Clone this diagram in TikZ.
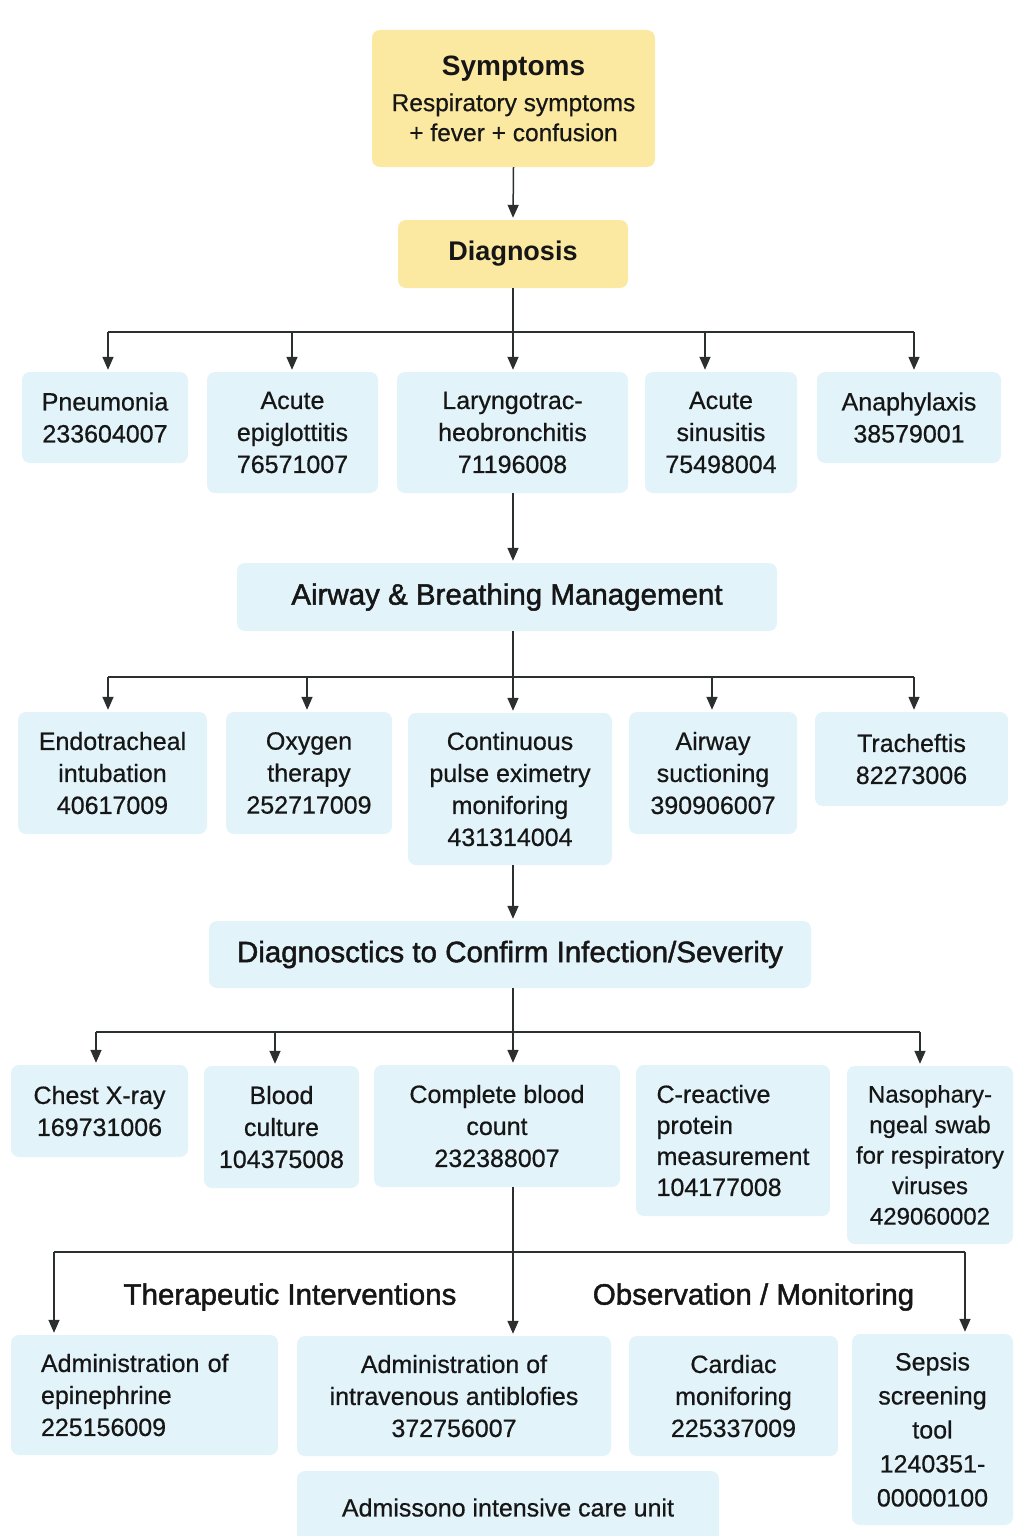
\documentclass[tikz,border=0pt]{standalone}
\usepackage{fontspec}
\setmainfont{Liberation Sans}[BoldFont={Liberation Sans},BoldFeatures={FakeBold=0.6}]
\newfontfamily\medfont{Liberation Sans}[BoldFont={Liberation Sans},BoldFeatures={FakeBold=1.6}]
\newfontfamily\titlefont{Liberation Sans}
\usetikzlibrary{arrows.meta}

\definecolor{symyellow}{HTML}{FBE9A1}
\definecolor{boxblue}{HTML}{E2F3FA}
\definecolor{linegray}{HTML}{2B2F2E}
\definecolor{inkblack}{HTML}{161616}

\tikzset{
  ybox/.style={fill=symyellow, rounded corners=8pt, align=center, inner sep=0pt, text=inkblack},
  bbox/.style={fill=boxblue, rounded corners=8pt, align=center, inner sep=0pt, text=inkblack,
    font=\bfseries\fontsize{25}{32}\selectfont},
  headbox/.style={bbox, font=\medfont\bfseries\fontsize{29.5}{32}\selectfont},
  grouplabel/.style={inner sep=0pt, text=inkblack, font=\medfont\bfseries\fontsize{29.5}{32}\selectfont},
  link/.style={draw=linegray, line width=1.5pt},
  arr/.style={link, -{Triangle[width=11pt,length=13pt]}, shorten >=2pt},
}

\begin{document}
\begin{tikzpicture}[x=1pt,y=1pt,yscale=-1,xscale=1]
\useasboundingbox (0,0) rectangle (1024,1536);

% Symptoms / Diagnosis
\node[ybox, minimum width=283pt, minimum height=137pt, font=\bfseries\fontsize{24.5}{30}\selectfont] (symp) at (513.5,98.5)
  {{\titlefont\bfseries\fontsize{28}{30}\selectfont Symptoms}\\[6pt]Respiratory symptoms\\+ fever + confusion};
\node[ybox, minimum width=230pt, minimum height=68pt, font=\titlefont\bfseries\fontsize{27}{30}\selectfont] (diag) at (513,254) {Diagnosis};

% Differential diagnoses
\node[bbox, minimum width=166pt, minimum height=91pt] (pneu) at (105,417.5) {Pneumonia\\233604007};
\node[bbox, minimum width=171pt, minimum height=121pt] (epig) at (292.5,432.5) {Acute\\epiglottitis\\76571007};
\node[bbox, minimum width=231pt, minimum height=121pt] (laryn) at (512.5,432.5) {Laryngotrac-\\heobronchitis\\71196008};
\node[bbox, minimum width=152pt, minimum height=121pt] (sinus) at (721,432.5) {Acute\\sinusitis\\75498004};
\node[bbox, minimum width=184pt, minimum height=91pt] (anaph) at (909,417.5) {Anaphylaxis\\38579001};

% Airway & Breathing Management
\node[headbox, minimum width=540pt, minimum height=68pt] (airway) at (507,597) {Airway \& Breathing Management};

\node[bbox, minimum width=189pt, minimum height=122pt] (endo) at (112.5,773) {Endotracheal\\intubation\\40617009};
\node[bbox, minimum width=166pt, minimum height=122pt] (oxy) at (309,773) {Oxygen\\therapy\\252717009};
\node[bbox, minimum width=204pt, minimum height=152pt] (pulse) at (510,789) {Continuous\\pulse eximetry\\moniforing\\431314004};
\node[bbox, minimum width=168pt, minimum height=122pt] (suct) at (713,773) {Airway\\suctioning\\390906007};
\node[bbox, minimum width=193pt, minimum height=94pt] (trach) at (911.5,759) {Tracheftis\\82273006};

% Diagnostics
\node[headbox, minimum width=602pt, minimum height=67pt] (diagn) at (510,954.5) {Diagnosctics to Confirm Infection/Severity};

\node[bbox, minimum width=177pt, minimum height=92pt] (xray) at (99.5,1111) {Chest X-ray\\169731006};
\node[bbox, minimum width=155pt, minimum height=122pt] (cult) at (281.5,1127) {Blood\\culture\\104375008};
\node[bbox, minimum width=246pt, minimum height=122pt] (cbc) at (497,1126) {Complete blood\\count\\232388007};
\node[bbox, align=left, minimum width=194pt, minimum height=151pt, font=\bfseries\fontsize{25}{31}\selectfont] (crp) at (733,1140.5) {C-reactive\\protein\\measurement\\104177008};
\node[bbox, minimum width=166pt, minimum height=178pt, font=\bfseries\fontsize{24}{30.5}\selectfont] (naso) at (930,1155) {Nasophary-\\ngeal swab\\for respiratory\\viruses\\429060002};

% Interventions and monitoring
\node[grouplabel] (therap) at (290,1297) {Therapeutic Interventions};
\node[grouplabel] (observ) at (753.5,1297) {Observation / Monitoring};

\node[bbox, align=left, inner xsep=30pt, text width=207pt, minimum height=120pt] (epi) at (144.5,1395) {Administration of\\epinephrine\\225156009};
\node[bbox, minimum width=314pt, minimum height=120pt] (ivab) at (454,1396) {Administration of\\intravenous antiblofies\\372756007};
\node[bbox, minimum width=209pt, minimum height=120pt] (card) at (733.5,1396) {Cardiac\\moniforing\\225337009};
\node[bbox, minimum width=161pt, minimum height=191pt, font=\bfseries\fontsize{25}{34}\selectfont] (sepsis) at (932.5,1429.5) {Sepsis\\screening\\tool\\1240351-\\00000100};
\node[bbox, minimum width=422pt, minimum height=73pt] (icu) at (508,1507.5) {Admissono intensive care unit};

% Connectors
\coordinate (bus1) at (513,332);
\coordinate (bus2) at (513,677);
\coordinate (bus3) at (513,1032);
\coordinate (bus4) at (513,1252);

\draw[arr] (symp.south) -- (diag.north);
\draw[link] (diag.south) -- (bus1);
\foreach \n/\dx in {pneu/3,epig/-0.5,laryn/0.5,sinus/-16,anaph/5}{
  \coordinate (\n-in) at ([xshift=\dx pt]\n.north);
  \draw[arr] (\n-in |- bus1) -- (\n-in);
}
\draw[link] (pneu-in |- bus1) -- (anaph-in |- bus1);

\draw[arr] (bus2 |- laryn.south) -- (bus2 |- airway.north);
\draw[link] (bus2 |- airway.south) -- (bus2);
\foreach \n/\dx in {endo/-4.5,oxy/-2,pulse/3,suct/-1,trach/2.5}{
  \coordinate (\n-in) at ([xshift=\dx pt]\n.north);
  \draw[arr] (\n-in |- bus2) -- (\n-in);
}
\draw[link] (endo-in |- bus2) -- (trach-in |- bus2);

\draw[arr] (bus3 |- pulse.south) -- (bus3 |- diagn.north);
\draw[link] (bus3 |- diagn.south) -- (bus3);
\foreach \n/\dx in {xray/-3.5,cult/-6.5,cbc/16,naso/-10}{
  \coordinate (\n-in) at ([xshift=\dx pt]\n.north);
  \draw[arr] (\n-in |- bus3) -- (\n-in);
}
\draw[link] (xray-in |- bus3) -- (naso-in |- bus3);

\draw[link] (bus4 |- cbc.south) -- (bus4);
\foreach \n/\dx in {epi/-90.5,ivab/59,sepsis/32.5}{
  \coordinate (\n-in) at ([xshift=\dx pt]\n.north);
  \draw[arr] (\n-in |- bus4) -- (\n-in);
}
\draw[link] (epi-in |- bus4) -- (sepsis-in |- bus4);

\end{tikzpicture}
\end{document}
